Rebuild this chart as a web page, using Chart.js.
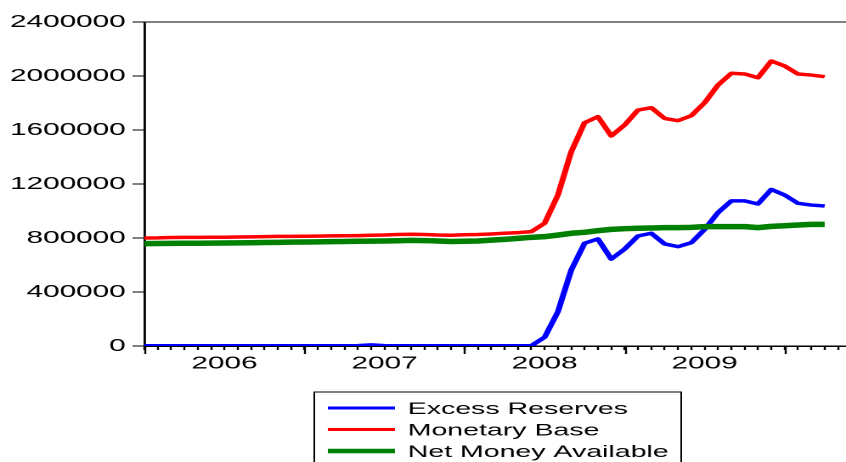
<!DOCTYPE html>
<html>
<head>
<meta charset="utf-8">
<title>Excess Reserves, Monetary Base, Net Money Available</title>
<script src="https://cdn.jsdelivr.net/npm/chart.js@4"></script>
<style>
  html, body { margin: 0; padding: 0; background: #fff; overflow: hidden; }
  /* the original picture is stretched horizontally, so draw narrow and stretch */
  #wrap { width: 498px; height: 462px; transform: scaleX(1.6988); transform-origin: 0 0; }
</style>
</head>
<body>
<div id="wrap"><canvas id="chart" width="498" height="462"></canvas></div>
<script>
/* ---- data (monthly, 2006M01 .. 2010M04) ---- */
var years = ['2006', '2007', '2008', '2009'];
var firstYear = 2006;

var excessReserves = [
  1500, 1500, 1500, 1500, 1500, 1500, 1500, 1500, 1500, 1500, 1500, 1500,
  1500, 1500, 1500, 1500, 2500, 8000, 2500, 1500, 1500, 1500, 1500, 1500,
  1500, 1500, 1500, 1500, 1500, 2000,
  64000, 254000, 563000, 761000, 793000, 644000, 718000, 815000, 835000, 756000,
  736000, 765000, 864000, 988000, 1075000, 1075000, 1052000, 1160000, 1118000, 1057000,
  1044000, 1037000
];

var monetaryBase = [
  800000, 801000, 804000, 805000, 805000, 806000, 806000, 807000, 808000, 810000,
  812000, 812000, 813000, 814000, 816000, 817000, 818000, 820000, 822000, 826000,
  828000, 826000, 822000, 820000, 824000, 826000, 830000, 835000, 840000, 847000,
  909000, 1118000, 1439000, 1654000, 1699000, 1556000, 1637000, 1748000, 1765000, 1686000,
  1669000, 1706000, 1802000, 1933000, 2020000, 2015000, 1987000, 2111000, 2074000, 2015000,
  2007000, 1995000
];

var netMoneyAvailable = [
  758000, 759000, 760000, 761000, 761000, 762000, 763000, 764000, 765000, 767000,
  768000, 769000, 770000, 771000, 773000, 774000, 776000, 777000, 778000, 780000,
  782000, 781000, 778000, 774000, 776000, 778000, 784000, 790000, 797000, 805000,
  810000, 822000, 835000, 842000, 854000, 864000, 869000, 872000, 874000, 877000,
  877000, 879000, 884000, 884000, 884000, 884000, 877000, 886000, 891000, 896000,
  901000, 901000
];

var yTicks = [0, 400000, 800000, 1200000, 1600000, 2000000, 2400000];

/* build month labels and points */
var periods = excessReserves.map(function(v, i) {
  var m = (i % 12) + 1;
  return (firstYear + Math.floor(i / 12)) + 'M' + (m < 10 ? '0' + m : m);
});

function toPoints(arr) {
  return arr.map(function(v, i) { return { x: i, y: v, label: periods[i] }; });
}

var FONT = '"Liberation Sans", Arial, sans-serif';

/* EViews style: long ticks at year starts + boxed legend */
var evPlugin = {
  id: 'evPlugin',
  afterDraw: function(chart) {
    var ctx = chart.ctx;
    var xs = chart.scales.x;
    var bottom = chart.chartArea.bottom;
    ctx.save();
    ctx.strokeStyle = '#000';
    ctx.lineWidth = 1.2;
    for (var v = 0; v <= xs.max; v += 12) {
      var px = Math.round(xs.getPixelForValue(v)) + 0.5;
      ctx.beginPath();
      ctx.moveTo(px, bottom);
      ctx.lineTo(px, bottom + 8);
      ctx.stroke();
    }

    /* legend box */
    var left = 185, right = 401, top = 392;
    ctx.lineWidth = 1;
    ctx.strokeRect(left, top, right - left, 80);
    ctx.font = '16.8px ' + FONT;
    ctx.fillStyle = '#000';
    ctx.textBaseline = 'alphabetic';
    ctx.textAlign = 'left';
    var rows = [408, 429.5, 451];
    chart.data.datasets.forEach(function(ds, i) {
      ctx.strokeStyle = ds.borderColor;
      ctx.lineWidth = ds.legendWidth;
      ctx.beginPath();
      ctx.moveTo(193, rows[i]);
      ctx.lineTo(232.5, rows[i]);
      ctx.stroke();
      ctx.fillText(ds.label, 240, rows[i] + 6);
    });
    ctx.restore();
  }
};

new Chart(document.getElementById('chart'), {
  type: 'line',
  data: {
    datasets: [
      { label: 'Excess Reserves', data: toPoints(excessReserves), borderColor: '#0000FF', borderWidth: 3.5, legendWidth: 3, order: 2 },
      { label: 'Monetary Base', data: toPoints(monetaryBase), borderColor: '#FF0000', borderWidth: 3.5, legendWidth: 3, order: 1 },
      { label: 'Net Money Available', data: toPoints(netMoneyAvailable), borderColor: '#008000', borderWidth: 5.5, legendWidth: 4.5, order: 0 }
    ]
  },
  options: {
    responsive: false,
    animation: false,
    devicePixelRatio: 2,
    layout: { padding: { top: 22, left: 0, right: 0, bottom: 0 } },
    elements: { point: { radius: 0 }, line: { tension: 0, borderJoinStyle: 'round', borderCapStyle: 'butt' } },
    plugins: { legend: { display: false }, tooltip: { enabled: false } },
    scales: {
      x: {
        type: 'linear',
        min: 0,
        max: 52.6,
        afterBuildTicks: function(scale) {
          var t = [];
          for (var i = 0; i <= 52; i++) t.push({ value: i });
          scale.ticks = t;
        },
        afterFit: function(scale) { scale.height = 116; },
        ticks: {
          autoSkip: false,
          maxRotation: 0,
          minRotation: 0,
          padding: 3,
          color: '#000',
          font: { family: FONT, size: 17.5 },
          callback: function(v) {
            return (v % 12 === 6) ? (years[(v - 6) / 12] || '') : '';
          }
        },
        grid: { drawOnChartArea: false, drawTicks: true, tickLength: 4, tickColor: '#000', tickWidth: 1.2 },
        border: { display: true, color: '#000', width: 1.5 }
      },
      y: {
        min: 0,
        max: 2400000,
        afterBuildTicks: function(scale) {
          scale.ticks = yTicks.map(function(v) { return { value: v }; });
        },
        afterFit: function(scale) { scale.width = 85; },
        ticks: {
          padding: 4,
          color: '#000',
          font: { family: FONT, size: 17.5 },
          callback: function(v) { return String(v); }
        },
        grid: {
          drawOnChartArea: true,
          tickLength: 7,
          tickColor: '#000',
          lineWidth: 1,
          color: function(c) { return c.tick && c.tick.value === 2400000 ? '#000' : 'rgba(0,0,0,0)'; }
        },
        border: { display: true, color: '#000', width: 1.4 }
      }
    }
  },
  plugins: [evPlugin]
});
</script>
</body>
</html>
